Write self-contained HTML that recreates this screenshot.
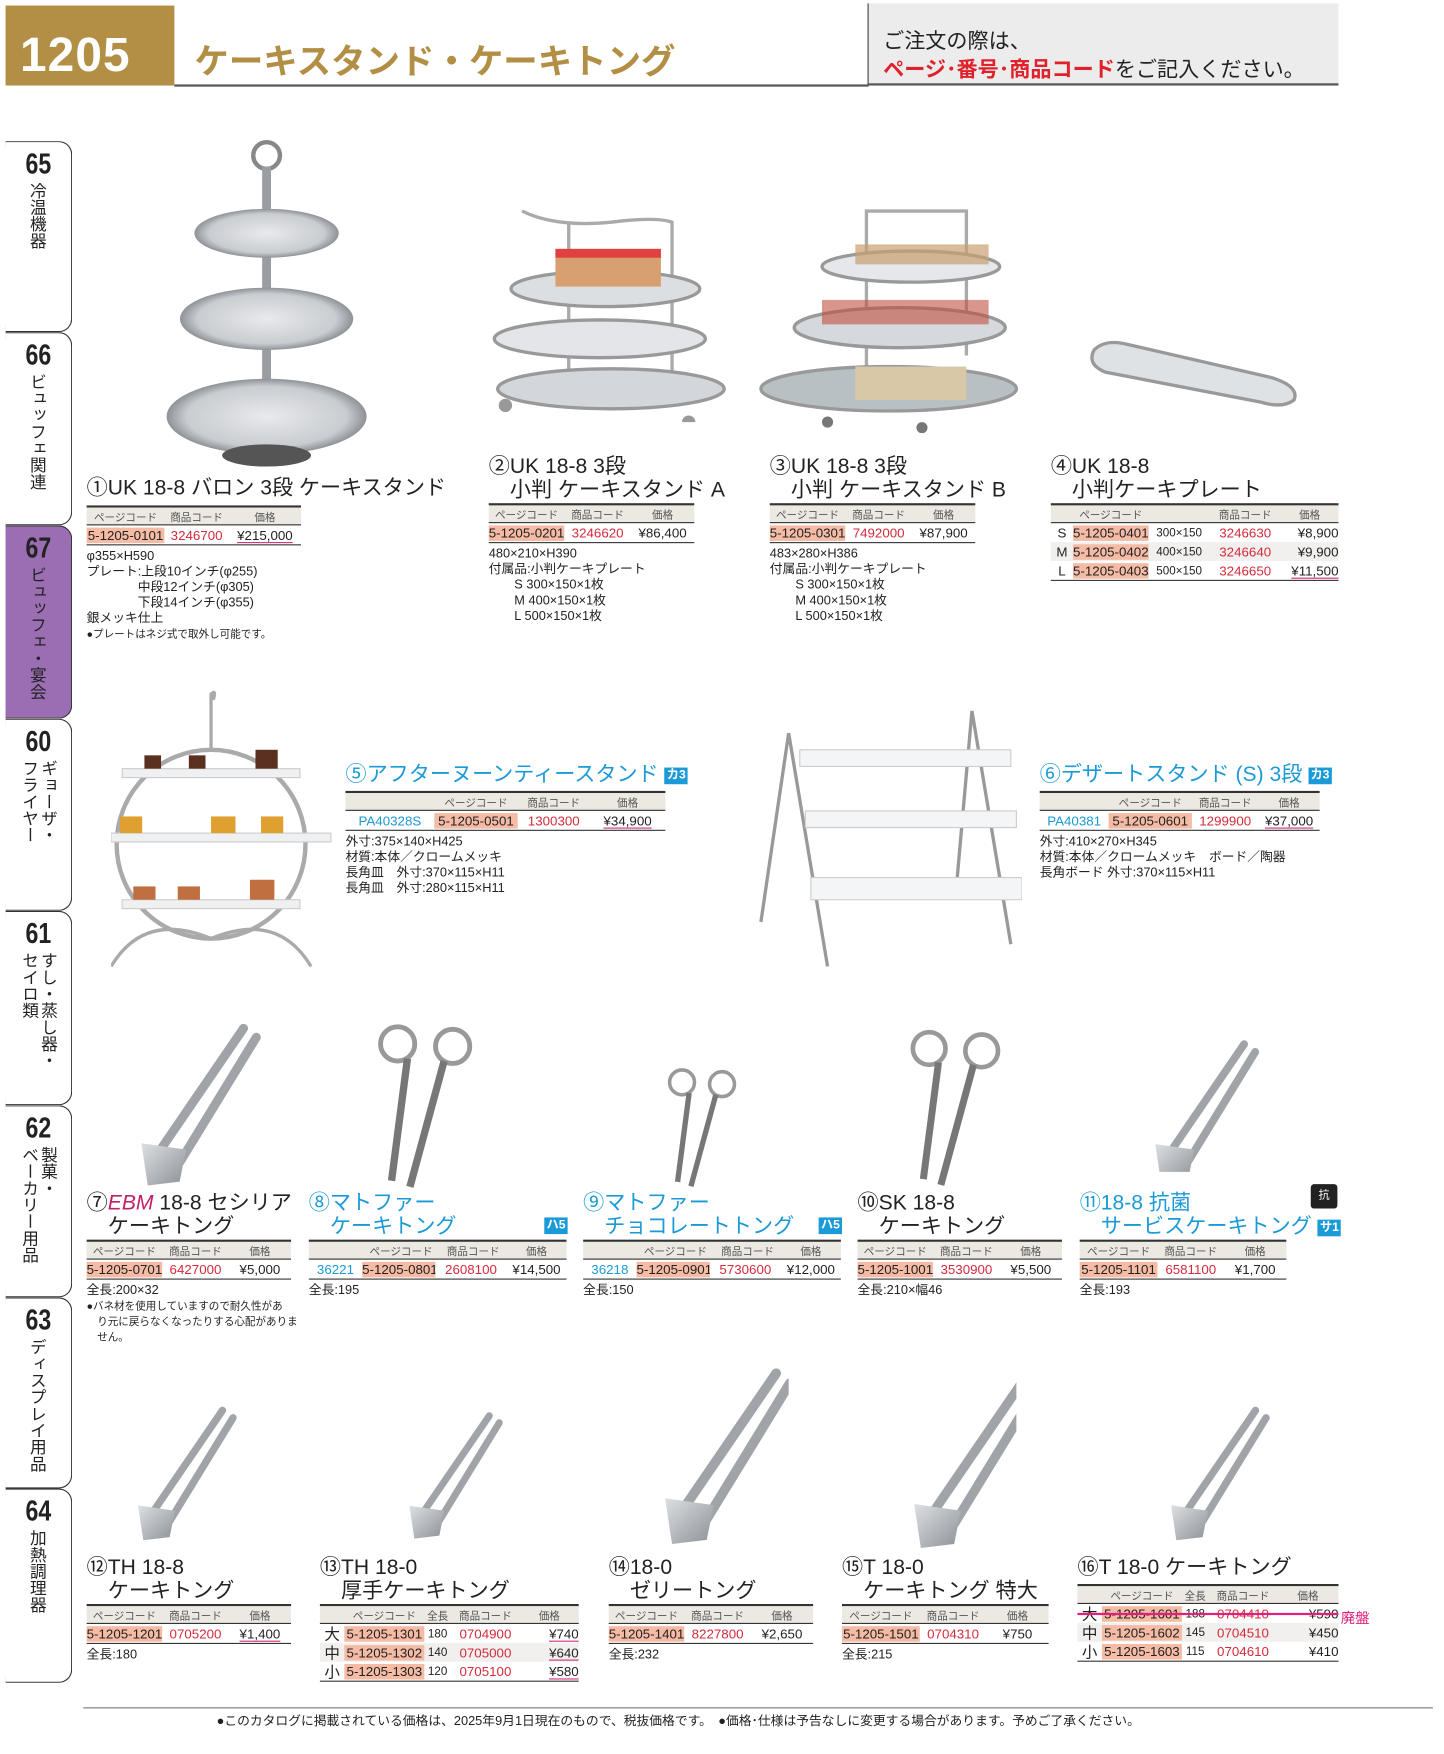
<!DOCTYPE html>
<html><head><meta charset="utf-8">
<style>
*{margin:0;padding:0;box-sizing:border-box}
html,body{width:1444px;height:1754px;overflow:hidden;background:#fff}
#w{position:absolute;left:0;top:0;width:1300px;height:1579px;transform:scale(1.1108);transform-origin:0 0;font-family:"Liberation Sans","Noto Sans CJK JP",sans-serif;color:#222}
.a{position:absolute}
.t{position:absolute;font-size:19px;line-height:21px;white-space:nowrap;color:#222}
.b{color:#1a9ad6}
.tb{position:absolute;border-top:2px solid #333;border-bottom:1.5px solid #333}
.h{display:flex;background:#ece8e2;height:16px;font-size:9.5px;color:#555;align-items:center;border-bottom:1.5px solid #333}
.r{display:flex;height:17px;font-size:12px;align-items:center;white-space:nowrap}
.r.g{background:#f1f0ee}
.h span,.r span{display:block;text-align:center;overflow:hidden}
.pc{background:#f5bba5}
.cc{color:#d42a3a}
.pu{text-decoration:underline;text-decoration-color:#d0287a;text-decoration-thickness:1.5px;text-underline-offset:2px}
.bl{color:#1a9ad6}
.s{position:absolute;font-size:11.5px;line-height:14px;white-space:nowrap;color:#222}
.tab{position:absolute;left:5px;width:60px;border:1.3px solid #333;border-left:none;border-radius:0 12px 12px 0;}
.tab .n{position:absolute;left:18px;top:4px;font-size:26px;font-weight:bold;font-family:"Liberation Sans Narrow","Liberation Sans",sans-serif;transform:scaleX(.8);transform-origin:left}
.tab .v{position:absolute;top:36px;writing-mode:vertical-rl;font-size:15px;line-height:17px;right:16px}
.badge{display:inline-block;background:#1a9ad6;color:#fff;font-size:11px;font-weight:bold;padding:0 2px;line-height:15px;vertical-align:2px}
</style></head><body><div id="w">
<!-- header -->
<div class="a" style="left:5px;top:5px;width:152px;height:72px;background:#b38f45"></div>
<div class="a" style="left:18px;top:26px;font-size:43px;font-weight:bold;color:#fff;letter-spacing:1px">1205</div>
<div class="a" style="left:175px;top:30px;font-size:31px;font-weight:bold;color:#b38f45">ケーキスタンド・ケーキトング</div>
<div class="a" style="left:157px;top:76px;width:625px;height:1.5px;background:#555"></div>
<div class="a" style="left:781px;top:3px;width:424px;height:74px;background:#ececec;border-left:1.5px solid #444;border-bottom:2px solid #555"></div>
<div class="a" style="left:795px;top:22px;font-size:19px">ご注文の際は、</div>
<div class="a" style="left:795px;top:48px;font-size:19px;white-space:nowrap"><b style="color:#e0202a">ページ･番号･商品コード</b>をご記入ください。</div>

<!-- tabs -->
<div class="tab" style="top:127px;height:172px"><div class="n">65</div><div class="v" style="right:22px">冷温機器</div></div>
<div class="tab" style="top:299px;height:174px"><div class="n">66</div><div class="v" style="right:22px">ビュッフェ関連</div></div>
<div class="tab" style="top:473px;height:174px;background:#9b6eb3"><div class="n">67</div><div class="v" style="right:22px">ビュッフェ・宴会</div></div>
<div class="tab" style="top:647px;height:173px"><div class="n">60</div><div class="v" style="right:12px">ギョーザ・<br>フライヤー</div></div>
<div class="tab" style="top:820px;height:175px"><div class="n">61</div><div class="v" style="right:12px">すし・蒸し器・<br>セイロ類</div></div>
<div class="tab" style="top:995px;height:173px"><div class="n">62</div><div class="v" style="right:12px">製菓・<br>ベーカリー用品</div></div>
<div class="tab" style="top:1168px;height:172px"><div class="n">63</div><div class="v" style="right:22px">ディスプレイ用品</div></div>
<div class="tab" style="top:1340px;height:175px"><div class="n">64</div><div class="v" style="right:22px">加熱調理器</div></div>

<!-- images row1 -->
<svg class="a" style="left:140px;top:125px" width="200" height="300" viewBox="0 0 200 300">
<defs><radialGradient id="pl" cx=".5" cy=".5" r=".5"><stop offset="0" stop-color="#e8eaec"/><stop offset=".8" stop-color="#c9ccd0"/><stop offset="1" stop-color="#8e9296"/></radialGradient></defs>
<ellipse cx="100" cy="15" rx="12" ry="12" fill="none" stroke="#888" stroke-width="4"/>
<rect x="96" y="25" width="8" height="265" fill="#9a9ea2"/>
<ellipse cx="100" cy="85" rx="65" ry="22" fill="url(#pl)"/>
<ellipse cx="100" cy="162" rx="78" ry="28" fill="url(#pl)"/>
<ellipse cx="100" cy="250" rx="90" ry="34" fill="url(#pl)"/>
<ellipse cx="100" cy="285" rx="40" ry="10" fill="#555"/>
</svg>
<svg class="a" style="left:440px;top:180px" width="215" height="200" viewBox="0 0 215 200">
<path d="M30 10 Q60 25 110 20 Q150 15 165 20 L165 170 M72 20 L72 170" stroke="#aaa" stroke-width="3" fill="none"/>
<ellipse cx="105" cy="80" rx="85" ry="16" fill="#dcdfe2" stroke="#999" stroke-width="3"/>
<rect x="60" y="48" width="95" height="30" fill="#d8a070"/><rect x="60" y="44" width="95" height="8" fill="#e04040"/>
<ellipse cx="100" cy="125" rx="95" ry="17" fill="#e3e5e8" stroke="#999" stroke-width="3"/>
<ellipse cx="110" cy="170" rx="102" ry="18" fill="#d3d6da" stroke="#999" stroke-width="3"/>
<circle cx="15" cy="185" r="6" fill="#999"/><circle cx="180" cy="200" r="6" fill="#999"/>
</svg>
<svg class="a" style="left:680px;top:180px" width="240" height="210" viewBox="0 0 240 210">
<path d="M130 10 L100 10 L100 180 M130 10 L190 10 L190 140" stroke="#aaa" stroke-width="3" fill="none"/>
<ellipse cx="140" cy="60" rx="80" ry="14" fill="#e5e7ea" stroke="#999" stroke-width="3"/>
<rect x="90" y="40" width="120" height="18" fill="#c8a070" opacity=".7"/>
<ellipse cx="130" cy="115" rx="95" ry="18" fill="#d5d8dc" stroke="#999" stroke-width="3"/>
<rect x="60" y="90" width="150" height="22" fill="#c05040" opacity=".6"/>
<ellipse cx="120" cy="170" rx="115" ry="20" fill="#b8c0c4" stroke="#999" stroke-width="3"/>
<rect x="90" y="150" width="100" height="30" fill="#d8c8a8"/>
<circle cx="65" cy="200" r="5" fill="#777"/><circle cx="150" cy="205" r="5" fill="#777"/>
</svg>
<svg class="a" style="left:975px;top:300px" width="200" height="70" viewBox="0 0 200 70">
<path d="M10 15 Q20 5 40 10 L170 40 Q195 48 190 60 Q180 68 160 62 L20 35 Q3 28 10 15Z" fill="#dfe2e5" stroke="#999" stroke-width="3"/>
</svg>
<!-- row2 images -->
<svg class="a" style="left:100px;top:620px" width="200" height="255" viewBox="0 0 200 255">
<circle cx="90" cy="140" r="85" fill="none" stroke="#aaa" stroke-width="4"/>
<path d="M90 55 L90 5 Q95 0 92 10" stroke="#aaa" stroke-width="3" fill="none"/>
<rect x="10" y="72" width="160" height="8" fill="#eef0f2" stroke="#ccc"/>
<rect x="0" y="130" width="198" height="8" fill="#eef0f2" stroke="#ccc"/>
<rect x="10" y="190" width="160" height="8" fill="#eef0f2" stroke="#ccc"/>
<g fill="#5a3020"><rect x="30" y="60" width="15" height="12"/><rect x="70" y="60" width="15" height="12"/><rect x="130" y="55" width="20" height="17"/></g>
<g fill="#e0a030"><rect x="8" y="115" width="20" height="15"/><rect x="90" y="115" width="22" height="15"/><rect x="135" y="115" width="20" height="15"/></g>
<g fill="#c07040"><rect x="20" y="178" width="20" height="12"/><rect x="60" y="178" width="20" height="12"/><rect x="125" y="172" width="22" height="18"/></g>
<path d="M0 250 Q30 200 90 225 Q150 200 180 250" stroke="#aaa" stroke-width="3" fill="none"/>
</svg>
<svg class="a" style="left:680px;top:630px" width="240" height="245" viewBox="0 0 240 245">
<path d="M30 30 L5 200 M30 30 L65 240 M195 10 L180 180 M195 10 L230 220" stroke="#999" stroke-width="3" fill="none"/>
<path d="M40 45 L230 45 L230 60 L40 60Z" fill="#f4f5f6" stroke="#ccc"/>
<path d="M45 100 L235 100 L235 115 L45 115Z" fill="#f4f5f6" stroke="#ccc"/>
<path d="M50 160 L240 160 L240 180 L50 180Z" fill="#f4f5f6" stroke="#ccc"/>
</svg>

<!-- tongs -->
<svg width="0" height="0" style="position:absolute"><defs>
<linearGradient id="tg" x1="0" y1="0" x2="1" y2="1"><stop offset="0" stop-color="#dde0e3"/><stop offset="1" stop-color="#8d9196"/></linearGradient>
<g id="tong"><path d="M95 5 L30 100 M105 12 L45 110" stroke="#a0a4a8" stroke-width="7" fill="none" stroke-linecap="round"/><path d="M15 95 L50 100 L45 125 L20 128Z" fill="url(#tg)"/></g>
<g id="scis"><circle cx="30" cy="18" r="14" fill="none" stroke="#999" stroke-width="4"/><circle cx="75" cy="20" r="14" fill="none" stroke="#999" stroke-width="4"/><path d="M38 30 L25 130 M68 32 L40 135" stroke="#777" stroke-width="6" fill="none"/></g>
</defs></svg>
<svg class="a" style="left:110px;top:920px" width="130" height="150"><use href="#tong" transform="scale(1.15)"/></svg>
<svg class="a" style="left:325px;top:920px" width="140" height="150"><use href="#scis" transform="scale(1.1)"/></svg>
<svg class="a" style="left:590px;top:960px" width="110" height="110"><use href="#scis" transform="scale(.8)"/></svg>
<svg class="a" style="left:805px;top:925px" width="130" height="145"><use href="#scis" transform="scale(1.05)"/></svg>
<svg class="a" style="left:1025px;top:935px" width="130" height="120"><use href="#tong" transform="scale(1.0)"/></svg>
<svg class="a" style="left:110px;top:1265px" width="130" height="130"><use href="#tong" transform="scale(.95)"/></svg>
<svg class="a" style="left:355px;top:1270px" width="120" height="120"><use href="#tong" transform="scale(.9)"/></svg>
<svg class="a" style="left:580px;top:1230px" width="130" height="165"><use href="#tong" transform="scale(1.25)"/></svg>
<svg class="a" style="left:805px;top:1240px" width="110" height="170"><use href="#tong" transform="scale(1.2)"/></svg>
<svg class="a" style="left:1040px;top:1265px" width="110" height="130"><use href="#tong" transform="scale(.95)"/></svg>

<!-- 1 -->
<div class="t" style="left:78px;top:429px">①UK 18-8 バロン 3段 ケーキスタンド</div>
<div class="tb" style="left:78px;top:455px;width:193px"><div class="h"><span style="width:70px">ページコード</span><span style="width:58px">商品コード</span><span style="width:65px">価格</span></div>
<div class="r"><span class="pc" style="width:70px">5-1205-0101</span><span class="cc" style="width:58px">3246700</span><span class="pu" style="width:65px">¥215,000</span></div></div>
<div class="s" style="left:78px;top:494px">φ355×H590<br>プレート:上段10インチ(φ255)<br>　　　　中段12インチ(φ305)<br>　　　　下段14インチ(φ355)<br>銀メッキ仕上<br><span style="font-size:9.5px">●プレートはネジ式で取外し可能です。</span></div>
<!-- 2 -->
<div class="t" style="left:440px;top:410px">②UK 18-8 3段<br>　小判 ケーキスタンド A</div>
<div class="tb" style="left:440px;top:453px;width:185px"><div class="h"><span style="width:68px">ページコード</span><span style="width:60px">商品コード</span><span style="width:57px">価格</span></div>
<div class="r"><span class="pc" style="width:68px">5-1205-0201</span><span class="cc" style="width:60px">3246620</span><span style="width:57px">¥86,400</span></div></div>
<div class="s" style="left:440px;top:492px">480×210×H390<br>付属品:小判ケーキプレート<br>　　S  300×150×1枚<br>　　M  400×150×1枚<br>　　L   500×150×1枚</div>
<!-- 3 -->
<div class="t" style="left:693px;top:410px">③UK 18-8 3段<br>　小判 ケーキスタンド B</div>
<div class="tb" style="left:693px;top:453px;width:185px"><div class="h"><span style="width:68px">ページコード</span><span style="width:60px">商品コード</span><span style="width:57px">価格</span></div>
<div class="r"><span class="pc" style="width:68px">5-1205-0301</span><span class="cc" style="width:60px">7492000</span><span style="width:57px">¥87,900</span></div></div>
<div class="s" style="left:693px;top:492px">483×280×H386<br>付属品:小判ケーキプレート<br>　　S  300×150×1枚<br>　　M  400×150×1枚<br>　　L   500×150×1枚</div>
<!-- 4 -->
<div class="t" style="left:946px;top:410px">④UK 18-8<br>　小判ケーキプレート</div>
<div class="tb" style="left:946px;top:453px;width:259px"><div class="h"><span style="width:20px"></span><span style="width:68px">ページコード</span><span style="width:55px"></span><span style="width:64px">商品コード</span><span style="width:52px">価格</span></div>
<div class="r"><span style="width:20px">S</span><span class="pc" style="width:68px">5-1205-0401</span><span style="width:55px;font-size:10.5px">300×150</span><span class="cc" style="width:64px">3246630</span><span style="width:52px;text-align:right">¥8,900</span></div>
<div class="r g"><span style="width:20px">M</span><span class="pc" style="width:68px">5-1205-0402</span><span style="width:55px;font-size:10.5px">400×150</span><span class="cc" style="width:64px">3246640</span><span style="width:52px;text-align:right">¥9,900</span></div>
<div class="r"><span style="width:20px">L</span><span class="pc" style="width:68px">5-1205-0403</span><span style="width:55px;font-size:10.5px">500×150</span><span class="cc" style="width:64px">3246650</span><span class="pu" style="width:52px;text-align:right">¥11,500</span></div></div>
<!-- 5 -->
<div class="t b" style="left:311px;top:687px">⑤アフターヌーンティースタンド <span class="badge">カ3</span></div>
<div class="tb" style="left:311px;top:712px;width:288px"><div class="h"><span style="width:80px"></span><span style="width:75px">ページコード</span><span style="width:65px">商品コード</span><span style="width:68px">価格</span></div>
<div class="r"><span class="bl" style="width:80px">PA40328S</span><span class="pc" style="width:75px">5-1205-0501</span><span class="cc" style="width:65px">1300300</span><span class="pu" style="width:68px">¥34,900</span></div></div>
<div class="s" style="left:311px;top:751px">外寸:375×140×H425<br>材質:本体／クロームメッキ<br>長角皿　外寸:370×115×H11<br>長角皿　外寸:280×115×H11</div>
<!-- 6 -->
<div class="t b" style="left:936px;top:687px">⑥デザートスタンド (S) 3段 <span class="badge">カ3</span></div>
<div class="tb" style="left:936px;top:712px;width:252px"><div class="h"><span style="width:62px"></span><span style="width:75px">ページコード</span><span style="width:60px">商品コード</span><span style="width:55px">価格</span></div>
<div class="r"><span class="bl" style="width:62px">PA40381</span><span class="pc" style="width:75px">5-1205-0601</span><span class="cc" style="width:60px">1299900</span><span class="pu" style="width:55px">¥37,000</span></div></div>
<div class="s" style="left:936px;top:751px">外寸:410×270×H345<br>材質:本体／クロームメッキ　ボード／陶器<br>長角ボード  外寸:370×115×H11</div>
<!-- 7 -->
<div class="t" style="left:78px;top:1073px">⑦<i style="color:#c0206a">EBM</i> 18-8 セシリア<br>　ケーキトング</div>
<div class="tb" style="left:78px;top:1116px;width:184px"><div class="h"><span style="width:68px">ページコード</span><span style="width:60px">商品コード</span><span style="width:56px">価格</span></div>
<div class="r"><span class="pc" style="width:68px">5-1205-0701</span><span class="cc" style="width:60px">6427000</span><span style="width:56px">¥5,000</span></div></div>
<div class="s" style="left:78px;top:1155px">全長:200×32<br><span style="font-size:9.5px;line-height:12px">●バネ材を使用していますので耐久性があ<br>　り元に戻らなくなったりする心配がありま<br>　せん。</span></div>
<!-- 8 -->
<div class="t b" style="left:278px;top:1073px">⑧マトファー<br>　ケーキトング</div><span class="a badge" style="left:490px;top:1096px">ハ5</span>
<div class="tb" style="left:278px;top:1116px;width:232px"><div class="h"><span style="width:48px"></span><span style="width:70px">ページコード</span><span style="width:60px">商品コード</span><span style="width:54px">価格</span></div>
<div class="r"><span class="bl" style="width:48px">36221</span><span class="pc" style="width:66px">5-1205-0801</span><span class="cc" style="width:64px">2608100</span><span style="width:54px">¥14,500</span></div></div>
<div class="s" style="left:278px;top:1155px">全長:195</div>
<!-- 9 -->
<div class="t b" style="left:525px;top:1073px">⑨マトファー<br>　チョコレートトング</div><span class="a badge" style="left:737px;top:1096px">ハ5</span>
<div class="tb" style="left:525px;top:1116px;width:232px"><div class="h"><span style="width:48px"></span><span style="width:70px">ページコード</span><span style="width:60px">商品コード</span><span style="width:54px">価格</span></div>
<div class="r"><span class="bl" style="width:48px">36218</span><span class="pc" style="width:66px">5-1205-0901</span><span class="cc" style="width:64px">5730600</span><span style="width:54px">¥12,000</span></div></div>
<div class="s" style="left:525px;top:1155px">全長:150</div>
<!-- 10 -->
<div class="t" style="left:772px;top:1073px">⑩SK 18-8<br>　ケーキトング</div>
<div class="tb" style="left:772px;top:1116px;width:184px"><div class="h"><span style="width:68px">ページコード</span><span style="width:60px">商品コード</span><span style="width:56px">価格</span></div>
<div class="r"><span class="pc" style="width:68px">5-1205-1001</span><span class="cc" style="width:60px">3530900</span><span style="width:56px">¥5,500</span></div></div>
<div class="s" style="left:772px;top:1155px">全長:210×幅46</div>
<!-- 11 -->
<div class="a" style="left:1180px;top:1066px;width:24px;height:22px;background:#222;border-radius:3px;color:#fff;font-size:10px;text-align:center;line-height:22px">抗</div>
<div class="t b" style="left:972px;top:1073px">⑪18-8 抗菌<br>　サービスケーキトング <span class="badge">サ1</span></div>
<div class="tb" style="left:972px;top:1116px;width:186px"><div class="h"><span style="width:70px">ページコード</span><span style="width:60px">商品コード</span><span style="width:56px">価格</span></div>
<div class="r"><span class="pc" style="width:70px">5-1205-1101</span><span class="cc" style="width:60px">6581100</span><span style="width:56px">¥1,700</span></div></div>
<div class="s" style="left:972px;top:1155px">全長:193</div>
<!-- 12 -->
<div class="t" style="left:78px;top:1401px">⑫TH 18-8<br>　ケーキトング</div>
<div class="tb" style="left:78px;top:1444px;width:184px"><div class="h"><span style="width:68px">ページコード</span><span style="width:60px">商品コード</span><span style="width:56px">価格</span></div>
<div class="r"><span class="pc" style="width:68px">5-1205-1201</span><span class="cc" style="width:60px">0705200</span><span class="pu" style="width:56px">¥1,400</span></div></div>
<div class="s" style="left:78px;top:1483px">全長:180</div>
<!-- 13 -->
<div class="t" style="left:288px;top:1401px">⑬TH 18-0<br>　厚手ケーキトング</div>
<div class="tb" style="left:288px;top:1444px;width:233px"><div class="h"><span style="width:22px"></span><span style="width:72px">ページコード</span><span style="width:24px">全長</span><span style="width:62px">商品コード</span><span style="width:53px">価格</span></div>
<div class="r"><span style="width:22px;font-size:14px">大</span><span class="pc" style="width:72px">5-1205-1301</span><span style="width:24px;font-size:10.5px">180</span><span class="cc" style="width:62px">0704900</span><span class="pu" style="width:53px;text-align:right">¥740</span></div>
<div class="r g"><span style="width:22px;font-size:14px">中</span><span class="pc" style="width:72px">5-1205-1302</span><span style="width:24px;font-size:10.5px">140</span><span class="cc" style="width:62px">0705000</span><span class="pu" style="width:53px;text-align:right">¥640</span></div>
<div class="r"><span style="width:22px;font-size:14px">小</span><span class="pc" style="width:72px">5-1205-1303</span><span style="width:24px;font-size:10.5px">120</span><span class="cc" style="width:62px">0705100</span><span class="pu" style="width:53px;text-align:right">¥580</span></div></div>
<!-- 14 -->
<div class="t" style="left:548px;top:1401px">⑭18-0<br>　ゼリートング</div>
<div class="tb" style="left:548px;top:1444px;width:184px"><div class="h"><span style="width:68px">ページコード</span><span style="width:60px">商品コード</span><span style="width:56px">価格</span></div>
<div class="r"><span class="pc" style="width:68px">5-1205-1401</span><span class="cc" style="width:60px">8227800</span><span style="width:56px">¥2,650</span></div></div>
<div class="s" style="left:548px;top:1483px">全長:232</div>
<!-- 15 -->
<div class="t" style="left:758px;top:1401px">⑮T 18-0<br>　ケーキトング 特大</div>
<div class="tb" style="left:758px;top:1444px;width:186px"><div class="h"><span style="width:70px">ページコード</span><span style="width:60px">商品コード</span><span style="width:56px">価格</span></div>
<div class="r"><span class="pc" style="width:70px">5-1205-1501</span><span class="cc" style="width:60px">0704310</span><span style="width:56px">¥750</span></div></div>
<div class="s" style="left:758px;top:1483px">全長:215</div>
<!-- 16 -->
<div class="t" style="left:970px;top:1401px">⑯T 18-0 ケーキトング</div>
<div class="tb" style="left:970px;top:1426px;width:235px"><div class="h"><span style="width:22px"></span><span style="width:72px">ページコード</span><span style="width:24px">全長</span><span style="width:62px">商品コード</span><span style="width:55px">価格</span></div>
<div class="r" style="position:relative"><span style="width:22px;font-size:14px">大</span><span class="pc" style="width:72px">5-1205-1601</span><span style="width:24px;font-size:10.5px">188</span><span class="cc" style="width:62px">0704410</span><span style="width:55px;text-align:right">¥590</span><div class="a" style="left:0;top:8px;width:235px;height:1.5px;background:#e0207a"></div></div>
<div class="r g"><span style="width:22px;font-size:14px">中</span><span class="pc" style="width:72px">5-1205-1602</span><span style="width:24px;font-size:10.5px">145</span><span class="cc" style="width:62px">0704510</span><span style="width:55px;text-align:right">¥450</span></div>
<div class="r"><span style="width:22px;font-size:14px">小</span><span class="pc" style="width:72px">5-1205-1603</span><span style="width:24px;font-size:10.5px">115</span><span class="cc" style="width:62px">0704610</span><span style="width:55px;text-align:right">¥410</span></div></div>
<div class="a" style="left:1207px;top:1446px;font-size:13px;color:#e0207a">廃盤</div>

<!-- footer -->
<div class="a" style="left:75px;top:1537px;width:1215px;height:1px;background:#777"></div>
<div class="a" style="left:195px;top:1541px;font-size:11.5px;white-space:nowrap">●このカタログに掲載されている価格は、2025年9月1日現在のもので、税抜価格です。　●価格･仕様は予告なしに変更する場合があります。予めご了承ください。</div>
</div></body></html>
